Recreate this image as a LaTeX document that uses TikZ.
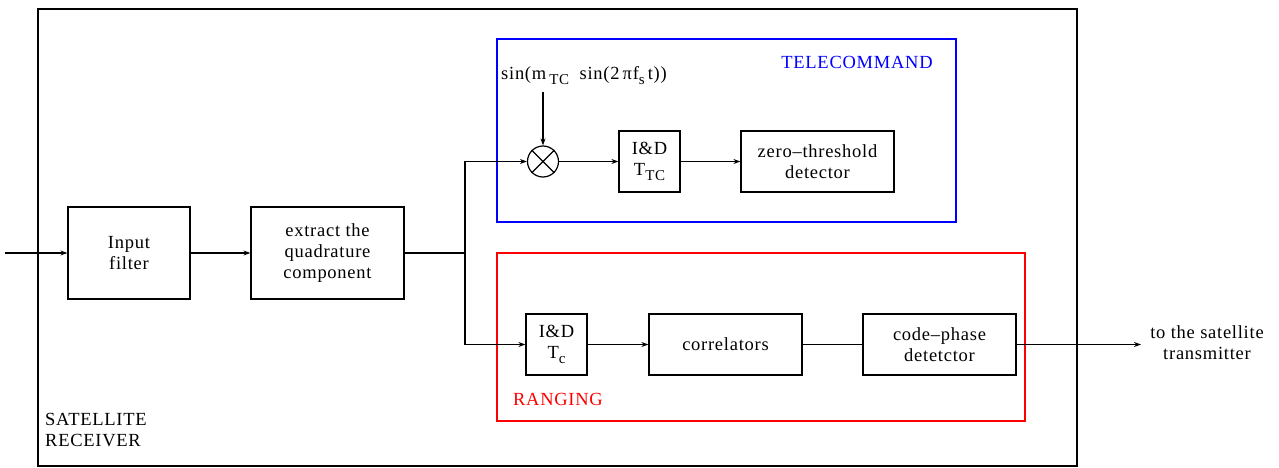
\documentclass[tikz,border=0pt]{standalone}
\usepackage{fontspec}
\setmainfont{Liberation Serif}[LetterSpace=4]
\usetikzlibrary{arrows.meta}
\newcommand{\sbs}[1]{\raisebox{-0.6ex}{\fontsize{15}{15}\selectfont #1}}
\begin{document}
\begin{tikzpicture}[x=1pt,y=-1pt,
  every node/.style={font=\fontsize{18.5}{21}\selectfont},
  blk/.style={draw,line width=1.2pt,minimum width=#1,minimum height=61pt,align=center,inner sep=0pt},
  wire/.style={line width=1.2pt},
  arr/.style={line width=1.2pt,-{Stealth[length=7pt,width=5pt]}}]
\useasboundingbox (0,0) rectangle (1279,468);
\fill[white] (0,0) rectangle (1279,468);
% outer frame
\draw[line width=1.2pt] (38,9) rectangle (1077,466);
\node[anchor=north west,align=left,inner sep=0pt] (sr) at (45,413) {SATELLITE\\RECEIVER};
% boxes
\draw[blue,line width=1.2pt] (497,39) rectangle (956,222);
\draw[red,line width=1.2pt] (497,253) rectangle (1025,421);
\node[blue] (tcl) at (857,62) {TELECOMMAND};
\node[red] (rgl) at (558,399) {RANGING};
\node[blk=122pt,minimum height=92pt] (inf) at (129,253) {Input\\filter};
\node[blk=153pt,minimum height=92pt] (ext) at (327.5,253) {extract the\\quadrature\\component};
\node[draw,circle,line width=1.2pt,minimum size=31pt,inner sep=0pt] (mix) at (543,161.5) {};
\draw[line width=1.2pt] (mix.45) -- (mix.225) (mix.135) -- (mix.315);
\node[blk=61pt] (idtc) at (649.5,161.5) {I\&D\\T\sbs{TC}};
\node[blk=153pt] (zt) at (817.5,161.5) {zero--threshold\\detector};
\node[blk=61pt] (idc) at (556.5,344.5) {I\&D\\T\sbs{c}};
\node[blk=153pt] (cor) at (725.5,344.5) {correlators};
\node[blk=153pt] (cp) at (939.5,344.5) {code--phase\\detetctor};
\node[anchor=west,inner sep=0pt] (sin) at (501,76) {sin(m\,\sbs{TC}\; sin(2\,πf\sbs{s}\,t))};
\node[align=center] (tst) at (1207,343) {to the satellite\\transmitter};
\coordinate (in) at (5,253);
\coordinate (j) at (465,253);
\coordinate (sinb) at (543,92);
\coordinate (out) at (1141,344.5);
% connectors
\draw[arr] (in) -- (inf.west);
\draw[arr] (inf.east) -- (ext.west);
\draw[wire] (ext.east) -- (j);
\draw[arr] (j) |- (mix.west);
\draw[arr] (j) |- (idc.west);
\draw[arr] (sinb) -- (mix.north);
\draw[arr] (mix.east) -- (idtc.west);
\draw[arr] (idtc.east) -- (zt.west);
\draw[arr] (idc.east) -- (cor.west);
\draw[wire] (cor.east) -- (cp.west);
\draw[arr] (cp.east) -- (out);
\end{tikzpicture}
\end{document}
